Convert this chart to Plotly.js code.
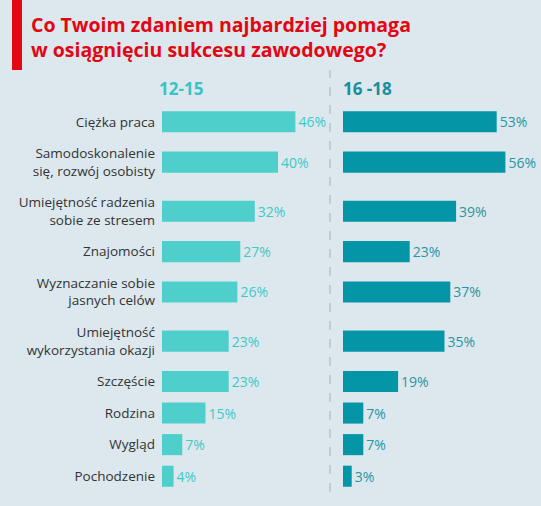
<!DOCTYPE html>
<html>
<head>
<meta charset="utf-8">
<script src="https://cdn.plot.ly/plotly-3.0.1.min.js"></script>
<style>html,body{margin:0;padding:0;background:#dce8ed;}#chart{width:541px;height:506px;}</style>
</head>
<body>
<div id="chart"></div>
<script>
var categories = [
  "Ciężka praca",
  "Samodoskonalenie<br>się, rozwój osobisty",
  "Umiejętność radzenia<br>sobie ze stresem",
  "Znajomości",
  "Wyznaczanie sobie<br>jasnych celów",
  "Umiejętność<br>wykorzystania okazji",
  "Szczęście",
  "Rodzina",
  "Wygląd",
  "Pochodzenie"
];
var age12_15 = [46, 40, 32, 27, 26, 23, 23, 15, 7, 4];
var age16_18 = [53, 56, 39, 23, 37, 35, 19, 7, 7, 3];
var groupLabels = ["12-15", "16 -18"];
var titleLines = ["Co Twoim zdaniem najbardziej pomaga", "w osiągnięciu sukcesu zawodowego?"];

// Layout: each row's height depends on how many lines its label has
var ROW_H = {1: 1, 2: 1.556};
function rowHeight(label){ return ROW_H[label.split('<br>').length] || 1; }
var rowPos = [];
(function(){
  var acc = 0;
  for (var i = 0; i < categories.length; i++){
    var h = rowHeight(categories[i]);
    if (i === 0) { acc = 0; }
    else { acc += (rowHeight(categories[i-1]) + h) / 2; }
    rowPos.push(acc);
  }
})();
var yMin = rowPos[0] - rowHeight(categories[0]) / 2;
var yMax = rowPos[rowPos.length-1] + rowHeight(categories[categories.length-1]) / 2;

var W = 541, H = 506, T = 106, B = 14;
var plotH = H - T - B;
function py(p){ return (H - B - p) / plotH; }
function px(p){ return p / W; }

var lightC = '#4ecfcc', darkC = '#0495a7';
var FONT = 'Open Sans, sans-serif';
var BAR_W = 0.667;

var traces = [
  {type:'bar', orientation:'h', y:rowPos, x:age12_15, xaxis:'x', yaxis:'y', width:BAR_W,
   marker:{color:lightC}, text:age12_15.map(function(v){return v+'%';}),
   textposition:'outside', cliponaxis:false,
   textfont:{color:'#3cc9c9', size:14, family:FONT}, hoverinfo:'skip'},
  {type:'bar', orientation:'h', y:rowPos, x:age16_18, xaxis:'x2', yaxis:'y2', width:BAR_W,
   marker:{color:darkC}, text:age16_18.map(function(v){return v+'%';}),
   textposition:'outside', cliponaxis:false,
   textfont:{color:'#2a95a3', size:14, family:FONT}, hoverinfo:'skip'}
];

var layout = {
  width: W, height: H,
  margin:{l:0, r:0, t:T, b:B},
  paper_bgcolor:'#dce8ed', plot_bgcolor:'rgba(0,0,0,0)',
  showlegend:false,
  font:{family:FONT, color:'#333'},
  xaxis:{domain:[px(162), px(336)], range:[0,60], visible:false, fixedrange:true},
  xaxis2:{domain:[px(343), px(517)], range:[0,60], visible:false, fixedrange:true},
  yaxis:{range:[yMax, yMin], showgrid:false, zeroline:false, showline:false, ticks:'',
         tickmode:'array', tickvals:rowPos, ticktext:categories,
         tickfont:{size:13.5, color:'#333', family:FONT}, ticklabelstandoff:6, anchor:'x'},
  yaxis2:{range:[yMax, yMin], showgrid:false, zeroline:false, showline:false, showticklabels:false,
          anchor:'x2'},
  shapes:[
    {type:'rect', xref:'paper', yref:'paper', x0:px(12), x1:px(22), y0:py(70), y1:py(0),
     fillcolor:'#e30613', line:{width:0}},
    {type:'line', xref:'paper', yref:'paper', x0:px(330), x1:px(330), y0:py(492), y1:py(70),
     line:{color:'#b8c4c9', width:1.5, dash:'dash'}}
  ],
  annotations:[
    {xref:'paper', yref:'paper', x:px(29), y:py(25), xanchor:'left', yanchor:'middle', showarrow:false,
     text:'<b>'+titleLines[0]+'</b>', font:{size:19.5, color:'#e30613', family:FONT}},
    {xref:'paper', yref:'paper', x:px(29), y:py(50), xanchor:'left', yanchor:'middle', showarrow:false,
     text:'<b>'+titleLines[1]+'</b>', font:{size:19.5, color:'#e30613', family:FONT}},
    {xref:'paper', yref:'paper', x:px(157), y:py(88), xanchor:'left', yanchor:'middle', showarrow:false,
     text:'<b>'+groupLabels[0]+'</b>', font:{size:17, color:'#37c4c8', family:FONT}},
    {xref:'paper', yref:'paper', x:px(341), y:py(88), xanchor:'left', yanchor:'middle', showarrow:false,
     text:'<b>'+groupLabels[1]+'</b>', font:{size:17, color:'#1a8e9c', family:FONT}}
  ]
};

Plotly.newPlot('chart', traces, layout, {displayModeBar:false, staticPlot:true});
</script>
</body>
</html>
